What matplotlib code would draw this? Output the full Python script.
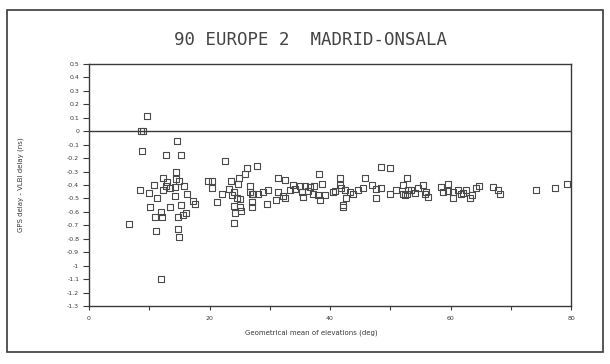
import matplotlib
matplotlib.use('Agg')
import matplotlib.pyplot as plt
from matplotlib.patches import Rectangle

# GPS - VLBI delay differences against mean elevation, 90 EUROPE 2 Madrid-Onsala
elev = [
    9.6, 8.6, 9.0, 14.6, 8.8, 12.7, 15.3, 14.5, 12.2, 14.4,
    14.9, 13.0, 10.8, 15.8, 12.7, 13.4, 14.2, 8.5, 12.2, 10.0,
    16.3, 14.2, 11.3, 17.3, 17.6, 13.5, 15.3, 10.1, 11.9, 10.9,
    12.1, 14.7, 15.6, 16.1, 6.6, 11.2, 14.8, 15.0, 11.9,
    19.7, 20.4, 20.4, 21.2, 22.1, 22.5, 23.5, 23.3, 24.1, 23.7,
    24.5, 25.0, 24.1, 25.0, 24.3, 25.2, 24.0, 24.9, 24.8, 25.9,
    26.3, 27.9, 26.7, 26.7, 27.0, 27.1, 27.0, 27.3, 28.1, 28.9,
    29.7, 29.5, 31.0, 31.4, 32.6, 31.4, 32.2, 32.5, 33.3, 33.9,
    34.2, 35.0, 35.8, 36.7, 37.4, 38.6, 35.5, 36.4, 37.2, 38.0,
    38.3, 39.1, 38.1, 35.3,
    40.5, 41.6, 41.9, 42.5, 43.3, 43.8, 44.7, 45.5, 46.9, 47.7,
    48.5, 42.7, 42.2, 42.1, 47.7, 49.9, 51.0, 52.1, 52.7, 53.0,
    41.7, 45.8, 48.5, 49.9, 40.8,
    52.1, 52.4, 52.7, 53.5, 54.1, 54.6, 55.4, 56.0, 56.3,
    58.5, 59.6, 58.8, 59.6, 60.4, 60.4, 61.2, 62.1, 62.6, 63.3,
    63.5, 64.3, 64.8, 67.0, 67.9, 68.2, 55.7, 61.8,
    74.2, 77.3, 79.3,
]
delay = [
    0.11, 0.0, 0.0, -0.07, -0.15, -0.18, -0.18, -0.30, -0.35, -0.355,
    -0.37, -0.38, -0.40, -0.41, -0.41, -0.42, -0.415, -0.44, -0.44, -0.46,
    -0.47, -0.48, -0.50, -0.52, -0.54, -0.56, -0.55, -0.565, -0.60, -0.64,
    -0.635, -0.635, -0.62, -0.61, -0.69, -0.745, -0.725, -0.785, -1.10,
    -0.37, -0.37, -0.42, -0.53, -0.47, -0.225, -0.37, -0.43, -0.45, -0.475,
    -0.50, -0.505, -0.555, -0.56, -0.61, -0.59, -0.68, -0.345, -0.39, -0.32,
    -0.275, -0.26, -0.405, -0.45, -0.465, -0.525, -0.56, -0.465, -0.47, -0.45,
    -0.44, -0.54, -0.51, -0.345, -0.365, -0.455, -0.48, -0.495, -0.435, -0.40,
    -0.43, -0.405, -0.41, -0.415, -0.41, -0.39, -0.49, -0.445, -0.465, -0.475,
    -0.51, -0.475, -0.32, -0.45,
    -0.45, -0.40, -0.425, -0.44, -0.45, -0.465, -0.44, -0.425, -0.40, -0.43,
    -0.425, -0.50, -0.55, -0.565, -0.495, -0.47, -0.44, -0.465, -0.345, -0.44,
    -0.345, -0.345, -0.265, -0.275, -0.445,
    -0.40, -0.475, -0.465, -0.44, -0.46, -0.42, -0.40, -0.45, -0.49,
    -0.415, -0.395, -0.45, -0.445, -0.495, -0.45, -0.44, -0.46, -0.44, -0.50,
    -0.475, -0.425, -0.41, -0.415, -0.44, -0.465, -0.465, -0.465,
    -0.44, -0.425, -0.395,
]

y_ticks = [0.5, 0.4, 0.3, 0.2, 0.1, 0, -0.1, -0.2, -0.3, -0.4, -0.5, -0.6,
           -0.7, -0.8, -0.9, -1, -1.1, -1.2, -1.3]
x_ticks = [0, 20, 40, 60, 80]
x_minor = [10, 30, 50, 70]

ink = '#3a3a3a'

fig = plt.figure(figsize=(6.1, 3.64), dpi=100)
ax = fig.add_axes([89 / 610, 1 - 306 / 364, 482 / 610, 242 / 364])

# flat rectangle marker, a bit wider than tall
box = [(-1.3, -1), (1.3, -1), (1.3, 1), (-1.3, 1), (-1.3, -1)]
ax.plot(elev, delay, linestyle='none', marker=box, markersize=5,
        markerfacecolor='none', markeredgecolor='#4a4a4a', markeredgewidth=0.8)

ax.axhline(0, color=ink, linewidth=1.0)

ax.set_xlim(0, 80)
ax.set_ylim(-1.3, 0.5)
ax.set_yticks(y_ticks)
ax.set_yticklabels([str(v) for v in y_ticks])
ax.set_xticks(x_ticks)
ax.set_xticklabels([str(v) for v in x_ticks])
ax.set_xticks(x_minor, minor=True)
ax.tick_params(axis='both', which='both', direction='out', color=ink,
               labelcolor=ink, labelsize=4.5, width=0.8)
ax.tick_params(axis='y', length=4, pad=3)
ax.tick_params(axis='x', which='both', length=3, pad=4)
for s in ax.spines.values():
    s.set_color(ink)
    s.set_linewidth(1.0)

fig.text(311 / 610, 1 - 40 / 364, '90 EUROPE 2  MADRID-ONSALA',
         ha='center', va='center', fontsize=12.5, color='#444444',
         family='DejaVu Sans Mono')
fig.text(311 / 610, 1 - 333 / 364, 'Geometrical mean of elevations (deg)',
         ha='center', va='center', fontsize=5, color=ink)
fig.text(21 / 610, 1 - 185 / 364, 'GPS delay - VLBI delay (ns)',
         ha='center', va='center', rotation=90, fontsize=5, color=ink)

# outer frame of the page
fig.patches.append(Rectangle((7 / 610, 1 - 352 / 364), 596 / 610, 342 / 364,
                             transform=fig.transFigure, fill=False,
                             edgecolor=ink, linewidth=1.2))

fig.savefig('out.png', dpi=100)
